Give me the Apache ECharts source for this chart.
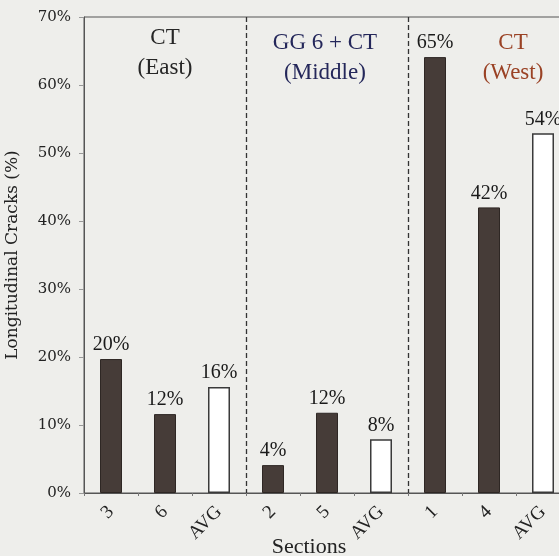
<!DOCTYPE html>
<html>
<head>
<meta charset="utf-8">
<script src="https://cdn.jsdelivr.net/npm/echarts@6/dist/echarts.min.js"></script>
<style>
html,body{margin:0;padding:0;background:#eeeeeb;}
#c{width:559px;height:556px;}
</style>
</head>
<body>
<div id="c"></div>
<script>
const categories = ['3', '6', 'AVG', '2', '5', 'AVG', '1', '4', 'AVG'];
const values = [19.7, 11.6, 15.6, 4.1, 11.8, 7.9, 64.1, 42.0, 52.9];
const valueLabels = ['20%', '12%', '16%', '4%', '12%', '8%', '65%', '42%', '54%'];
const yTicks = [0, 10, 20, 30, 40, 50, 60, 70];
const groupTitles = [
  { lines: 'CT\n(East)', color: '#262626', x: 165, y: 23 },
  { lines: 'GG 6 + CT\n(Middle)', color: '#24275a', x: 325, y: 28 },
  { lines: 'CT\n(West)', color: '#9a4225', x: 513, y: 28 }
];

const serif = '"Liberation Serif", "DejaVu Serif", serif';
const wideSerif = '"DejaVu Serif", "Liberation Serif", serif';
const barDark = '#463c38';

const chart = echarts.init(document.getElementById('c'), null, { renderer: 'canvas' });

const data = values.map((v, i) => {
  const isAvg = categories[i] === 'AVG';
  return {
    value: v,
    itemStyle: isAvg
      ? { color: '#ffffff', borderColor: '#3a3a3a', borderWidth: 1.5 }
      : { color: barDark, borderColor: '#2e2724', borderWidth: 1 }
  };
});

chart.setOption({
  backgroundColor: '#eeeeeb',
  animation: false,
  grid: {
    left: 84, top: 17, bottom: 63, right: -11,
    containLabel: false,
    outerBoundsMode: 'none',
    show: true, borderColor: '#555', borderWidth: 1,
    backgroundColor: 'transparent'
  },
  xAxis: {
    type: 'category',
    data: categories,
    axisLine: { lineStyle: { color: '#555', width: 1 } },
    axisTick: { show: true, interval: 0, length: 3, lineStyle: { color: '#777' } },
    axisLabel: {
      interval: 0, rotate: 45, margin: 16,
      fontFamily: serif, fontSize: 19, color: '#222'
    },
    splitLine: {
      show: true,
      interval: function (idx) { return idx === 3 || idx === 6; },
      lineStyle: { color: '#333', type: [5, 3], width: 1.3 }
    }
  },
  yAxis: {
    type: 'value',
    min: yTicks[0], max: yTicks[yTicks.length - 1], interval: 10,
    name: 'Longitudinal Cracks (%)',
    nameLocation: 'middle', nameGap: 63, nameRotate: 90,
    nameTextStyle: { fontFamily: wideSerif, fontSize: 17, color: '#222' },
    axisLine: { show: true, lineStyle: { color: '#555', width: 1 } },
    axisTick: { show: true, length: 5, inside: false, lineStyle: { color: '#999' } },
    axisLabel: {
      formatter: '{value}%', margin: 13,
      fontFamily: wideSerif, fontSize: 15, color: '#222'
    },
    splitLine: { show: false }
  },
  series: [{
    type: 'bar',
    data: data,
    barWidth: 22,
    label: {
      show: true, position: 'top', distance: 4,
      fontFamily: serif, fontSize: 20, color: '#1a1a1a',
      formatter: function (p) { return valueLabels[p.dataIndex]; }
    }
  }],
  graphic: groupTitles.map(g => ({
    type: 'text',
    x: g.x, y: g.y,
    style: {
      text: g.lines, fill: g.color,
      font: '23px ' + serif,
      align: 'center', verticalAlign: 'top',
      lineHeight: 30
    }
  })).concat([{
    type: 'text',
    x: 309, y: 547,
    style: {
      text: 'Sections', fill: '#222',
      font: '22px ' + serif, align: 'center', verticalAlign: 'middle'
    }
  }])
});
</script>
</body>
</html>
